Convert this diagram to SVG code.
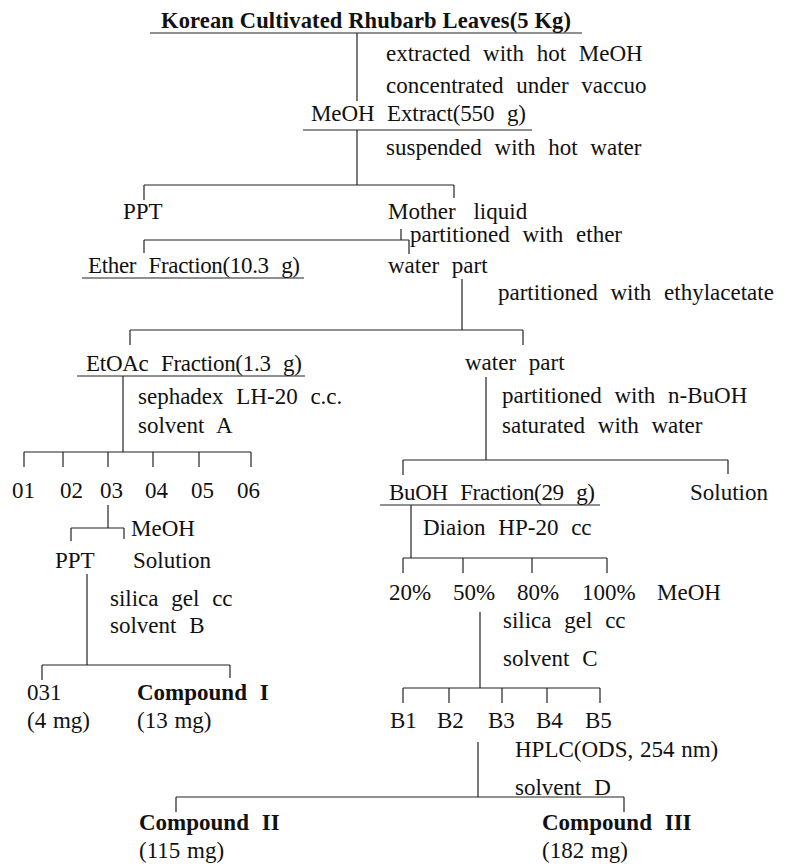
<svg xmlns="http://www.w3.org/2000/svg" width="792" height="864" viewBox="0 0 792 864">
<style>
text{font-family:"Liberation Serif","Times New Roman",serif;font-size:23px;fill:#111;word-spacing:7px}
.b{font-weight:bold}
.n{word-spacing:1px}
#connectors line{stroke:#222;stroke-width:1.2}
</style>
<rect width="792" height="864" fill="#fff"/>
<g id="connectors">
<line x1="150" y1="33" x2="582" y2="33"/>
<line x1="357" y1="33" x2="357" y2="101"/>
<line x1="303" y1="130" x2="532" y2="130"/>
<line x1="357" y1="130" x2="357" y2="185"/>
<line x1="144" y1="185" x2="454" y2="185"/>
<line x1="144" y1="185" x2="144" y2="200"/>
<line x1="454" y1="185" x2="454" y2="198"/>
<line x1="401" y1="229" x2="401" y2="240"/>
<line x1="144" y1="240" x2="409" y2="240"/>
<line x1="144" y1="240" x2="144" y2="253"/>
<line x1="409" y1="240" x2="409" y2="254"/>
<line x1="82" y1="278" x2="304" y2="278"/>
<line x1="462" y1="279" x2="462" y2="330"/>
<line x1="130" y1="330" x2="523" y2="330"/>
<line x1="130" y1="330" x2="130" y2="345"/>
<line x1="523" y1="330" x2="523" y2="345"/>
<line x1="77" y1="376" x2="305" y2="376"/>
<line x1="123" y1="376" x2="123" y2="452"/>
<line x1="24" y1="452" x2="251" y2="452"/>
<line x1="24" y1="452" x2="24" y2="467"/>
<line x1="63" y1="452" x2="63" y2="467"/>
<line x1="108" y1="452" x2="108" y2="467"/>
<line x1="153" y1="452" x2="153" y2="467"/>
<line x1="199" y1="452" x2="199" y2="467"/>
<line x1="251" y1="452" x2="251" y2="467"/>
<line x1="108" y1="505" x2="108" y2="528"/>
<line x1="71" y1="528" x2="124" y2="528"/>
<line x1="71" y1="528" x2="71" y2="541"/>
<line x1="124" y1="528" x2="124" y2="539"/>
<line x1="87" y1="574" x2="87" y2="665"/>
<line x1="42" y1="665" x2="230" y2="665"/>
<line x1="42" y1="665" x2="42" y2="680"/>
<line x1="230" y1="665" x2="230" y2="678"/>
<line x1="486" y1="377" x2="486" y2="460"/>
<line x1="403" y1="460" x2="728" y2="460"/>
<line x1="403" y1="460" x2="403" y2="475"/>
<line x1="728" y1="460" x2="728" y2="474"/>
<line x1="380" y1="505" x2="600" y2="505"/>
<line x1="411" y1="505" x2="411" y2="558"/>
<line x1="403" y1="558" x2="607" y2="558"/>
<line x1="403" y1="558" x2="403" y2="573"/>
<line x1="463" y1="558" x2="463" y2="573"/>
<line x1="532" y1="558" x2="532" y2="573"/>
<line x1="607" y1="558" x2="607" y2="573"/>
<line x1="480" y1="612" x2="480" y2="688"/>
<line x1="403" y1="688" x2="600" y2="688"/>
<line x1="403" y1="688" x2="403" y2="703"/>
<line x1="449" y1="688" x2="449" y2="703"/>
<line x1="502" y1="688" x2="502" y2="703"/>
<line x1="547" y1="688" x2="547" y2="703"/>
<line x1="600" y1="688" x2="600" y2="703"/>
<line x1="478" y1="742" x2="478" y2="797"/>
<line x1="176" y1="797" x2="624" y2="797"/>
<line x1="176" y1="797" x2="176" y2="812"/>
<line x1="624" y1="797" x2="624" y2="812"/>
</g>
<g id="n-rhubarb"><text class="b" x="161" y="28" textLength="410" lengthAdjust="spacing" style="font-size:22.5px;word-spacing:0">Korean Cultivated Rhubarb Leaves(5 Kg)</text></g>
<g id="s-extract"><text x="386" y="61">extracted with hot MeOH</text><text x="386" y="93">concentrated under vaccuo</text></g>
<g id="n-meoh"><text x="311" y="121" textLength="215" lengthAdjust="spacing">MeOH Extract(550 g)</text></g>
<g id="s-suspend"><text x="386" y="155">suspended with hot water</text></g>
<g id="n-ppt1"><text x="123" y="219">PPT</text></g>
<g id="n-mother"><text x="388" y="219" style="word-spacing:12px">Mother liquid</text></g>
<g id="s-ether"><text x="410" y="242">partitioned with ether</text></g>
<g id="n-ether"><text x="88" y="273" textLength="212" lengthAdjust="spacing">Ether Fraction(10.3 g)</text></g>
<g id="n-water1"><text x="388" y="273">water part</text></g>
<g id="s-etoac"><text x="498" y="300">partitioned with ethylacetate</text></g>
<g id="n-etoac"><text x="86" y="371" textLength="216" lengthAdjust="spacing">EtOAc Fraction(1.3 g)</text></g>
<g id="n-water2"><text x="465" y="370">water part</text></g>
<g id="s-sephadex"><text x="138" y="404">sephadex LH-20 c.c.</text><text x="138" y="433">solvent A</text></g>
<g id="n-fr"><text x="12" y="498">01</text><text x="60" y="498">02</text><text x="100" y="498">03</text><text x="145" y="498">04</text><text x="191" y="498">05</text><text x="237" y="498">06</text></g>
<g id="s-meoh2"><text x="131" y="536">MeOH</text></g>
<g id="n-ppt2"><text x="55" y="568">PPT</text></g>
<g id="n-sol1"><text x="133" y="568">Solution</text></g>
<g id="s-silicaB"><text x="110" y="606">silica gel cc</text><text x="110" y="633">solvent B</text></g>
<g id="n-031"><text x="27" y="700">031</text><text class="n" x="27" y="728">(4 mg)</text></g>
<g id="n-c1"><text class="b" x="137" y="700">Compound I</text><text class="n" x="137" y="728">(13 mg)</text></g>
<g id="s-buoh"><text x="502" y="403">partitioned with n-BuOH</text><text x="502" y="433">saturated with water</text></g>
<g id="n-buoh"><text x="389" y="500" textLength="206" lengthAdjust="spacing">BuOH Fraction(29 g)</text></g>
<g id="n-sol2"><text x="690" y="500">Solution</text></g>
<g id="s-diaion"><text x="423" y="535">Diaion HP-20 cc</text></g>
<g id="n-pct"><text x="389" y="600">20%</text><text x="453" y="600">50%</text><text x="517" y="600">80%</text><text x="582" y="600">100%</text><text x="657" y="600">MeOH</text></g>
<g id="s-silicaC"><text x="503" y="628">silica gel cc</text><text x="503" y="666">solvent C</text></g>
<g id="n-b"><text x="390" y="728">B1</text><text x="437" y="728">B2</text><text x="488" y="728">B3</text><text x="536" y="728">B4</text><text x="585" y="728">B5</text></g>
<g id="s-hplc"><text class="n" x="515" y="757">HPLC(ODS, 254 nm)</text><text x="515" y="795">solvent D</text></g>
<g id="n-c2"><text class="b" x="139" y="830">Compound II</text><text class="n" x="139" y="858">(115 mg)</text></g>
<g id="n-c3"><text class="b" x="542" y="830">Compound III</text><text class="n" x="542" y="858">(182 mg)</text></g>
</svg>
